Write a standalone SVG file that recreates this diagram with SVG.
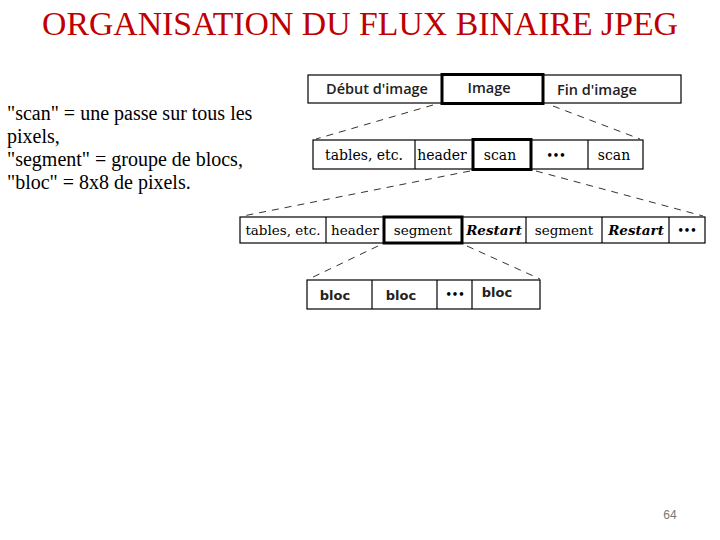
<svg xmlns="http://www.w3.org/2000/svg" width="720" height="540" viewBox="0 0 720 540">
<style>
.box{fill:#fff;stroke:#000;stroke-width:1.2}
.thick{fill:none;stroke:#000;stroke-width:3}
.div{stroke:#000;stroke-width:1.2}
.dash{stroke:#333;stroke-width:1;stroke-dasharray:7 6;fill:none}
.t1{font-family:"Open Sans","Noto Sans",sans-serif;font-weight:600;font-size:14.5px;fill:#222;text-anchor:middle}
.t2{font-family:"DejaVu Serif","Liberation Serif",serif;font-size:14px;fill:#000;text-anchor:middle}
.t3{font-family:"DejaVu Serif","Liberation Serif",serif;font-size:13.5px;fill:#000;text-anchor:middle}
.it{font-style:italic;font-weight:bold}
.t4{font-family:"DejaVu Sans",sans-serif;font-weight:bold;font-size:13px;fill:#222;text-anchor:middle}
.dots{font-family:"DejaVu Sans",sans-serif;font-weight:bold;font-size:10px;fill:#000;text-anchor:middle}
.left{font-family:"Liberation Serif",serif;font-size:20px;fill:#000}
</style>
<rect width="720" height="540" fill="#fff"/>
<text x="360" y="35" text-anchor="middle" font-family="'Liberation Serif',serif" font-size="33" textLength="636" lengthAdjust="spacingAndGlyphs" fill="#C00000">ORGANISATION DU FLUX BINAIRE JPEG</text>
<g id="legend">
<text class="left" x="7" y="120">"scan" = une passe sur tous les</text>
<text class="left" x="7" y="143">pixels,</text>
<text class="left" x="7" y="166">"segment" = groupe de blocs,</text>
<text class="left" x="7" y="189">"bloc" = 8x8 de pixels.</text>
</g>
<g id="connectors">
<line class="dash" x1="433" y1="105" x2="316" y2="139"/>
<line class="dash" x1="553" y1="106" x2="640" y2="139"/>
<line class="dash" x1="470" y1="171" x2="243" y2="216"/>
<line class="dash" x1="536" y1="171" x2="703" y2="216"/>
<line class="dash" x1="378" y1="246" x2="309" y2="279"/>
<line class="dash" x1="467" y1="246" x2="540" y2="279"/>
</g>
<g id="row1">
<rect class="box" x="308" y="75" width="373" height="28"/>
<rect class="thick" x="442" y="74.5" width="101" height="29"/>
<text class="t1" x="377" y="94">Début d'image</text>
<text class="t1" x="489" y="93">Image</text>
<text class="t1" x="597" y="95">Fin d'image</text>
</g>
<g id="row2">
<rect class="box" x="313" y="140" width="330" height="29"/>
<line class="div" x1="415" y1="140" x2="415" y2="169"/>
<line class="div" x1="588" y1="140" x2="588" y2="169"/>
<rect class="thick" x="473" y="139.5" width="58" height="30"/>
<text class="t2" x="364" y="160">tables, etc.</text>
<text class="t2" x="442" y="160">header</text>
<text class="t2" x="500" y="160">scan</text>
<text class="dots" x="556" y="159">•••</text>
<text class="t2" x="614" y="160">scan</text>
</g>
<g id="row3">
<rect class="box" x="240" y="217" width="465" height="26"/>
<line class="div" x1="326" y1="217" x2="326" y2="243"/>
<line class="div" x1="526" y1="217" x2="526" y2="243"/>
<line class="div" x1="602" y1="217" x2="602" y2="243"/>
<line class="div" x1="669" y1="217" x2="669" y2="243"/>
<rect class="thick" x="384" y="217" width="78" height="26"/>
<text class="t3" x="283" y="235">tables, etc.</text>
<text class="t3" x="355" y="235">header</text>
<text class="t3" x="423" y="235">segment</text>
<text class="t3 it" x="494" y="235">Restart</text>
<text class="t3" x="564" y="235">segment</text>
<text class="t3 it" x="636" y="235">Restart</text>
<text class="dots" x="687" y="234">•••</text>
</g>
<g id="row4">
<rect class="box" x="307" y="280" width="233" height="29"/>
<line class="div" x1="372" y1="280" x2="372" y2="309"/>
<line class="div" x1="437" y1="280" x2="437" y2="309"/>
<line class="div" x1="472" y1="280" x2="472" y2="309"/>
<text class="t4" x="335" y="300">bloc</text>
<text class="t4" x="401" y="300">bloc</text>
<text class="dots" x="455" y="298">•••</text>
<text class="t4" x="497" y="297">bloc</text>
</g>
<text x="670" y="519" text-anchor="middle" font-family="'Liberation Sans',sans-serif" font-size="12" fill="#777">64</text>
</svg>
